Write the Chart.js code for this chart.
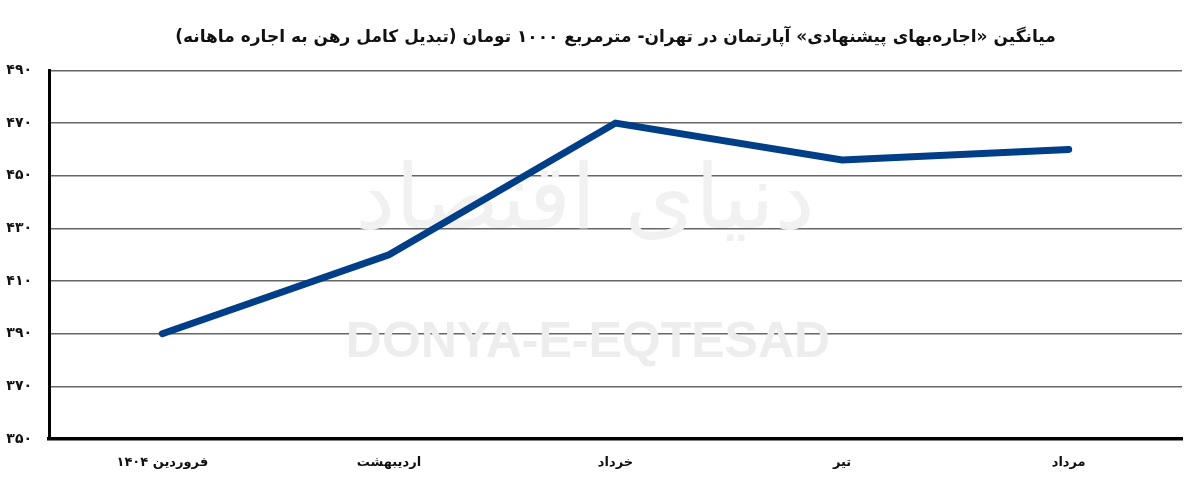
<!DOCTYPE html>
<html lang="fa">
<head>
<meta charset="utf-8">
<script src="https://cdn.jsdelivr.net/npm/chart.js@4/dist/chart.umd.min.js"></script>
<style>
    html, body { margin: 0; padding: 0; background: #fff; }
    #wrap { width: 1200px; height: 481px; }
</style>
</head>
<body>
<div id="wrap"><canvas id="rentChart" dir="rtl"></canvas></div>
<script>
const months = ['فروردین ۱۴۰۴', 'اردیبهشت', 'خرداد', 'تیر', 'مرداد'];
const avgRent = [390, 420, 470, 456, 460];
const yTickValues = [350, 370, 390, 410, 430, 450, 470, 490];
const yTickLabels = ['۳۵۰', '۳۷۰', '۳۹۰', '۴۱۰', '۴۳۰', '۴۵۰', '۴۷۰', '۴۹۰'];
const chartTitle = 'میانگین «اجاره‌بهای پیشنهادی» آپارتمان در تهران- مترمربع ۱۰۰۰ تومان (تبدیل کامل رهن به اجاره ماهانه)';

const faFont = '"DejaVu Sans", "Noto Sans", sans-serif';

// faint watermark behind the line
const watermark = {
    id: 'watermark',
    beforeDatasetsDraw(chart) {
        const ctx = chart.ctx;
        ctx.save();
        ctx.textAlign = 'center';
        ctx.textBaseline = 'middle';
        ctx.fillStyle = '#f1f1f1';
        ctx.font = '90px ' + faFont;
        ctx.fillText('دنیای اقتصاد', 585, 205);
        ctx.fillStyle = '#ededed';
        ctx.font = 'bold 50px "Liberation Sans", Arial, sans-serif';
        ctx.direction = 'ltr';
        ctx.fillText('DONYA-E-EQTESAD', 588, 343);
        ctx.restore();
    }
};

new Chart(document.getElementById('rentChart'), {
    type: 'line',
    data: {
        labels: months,
        datasets: [{
            label: 'اجاره',
            data: avgRent,
            borderColor: '#003f88',
            borderWidth: 7,
            borderCapStyle: 'round',
            pointRadius: 0,
            tension: 0,
            fill: false
        }]
    },
    options: {
        responsive: true,
        maintainAspectRatio: false,
        animation: false,
        layout: { padding: { left: 0, right: 18, top: 0, bottom: 0 } },
        plugins: {
            legend: { display: false },
            tooltip: { enabled: false },
            title: {
                display: true,
                fullSize: false,
                text: chartTitle,
                color: '#111',
                font: { family: faFont, size: 17, weight: 'bold', lineHeight: 1.2 },
                padding: { top: 27, bottom: 23 }
            }
        },
        scales: {
            x: {
                offset: true,
                grid: { display: false, drawTicks: false },
                border: { display: true, color: '#000', width: 3.5 },
                ticks: {
                    color: '#111',
                    padding: 16,
                    font: { family: faFont, size: 13, weight: 'bold' }
                },
                afterFit(scale) { scale.height = 42; }
            },
            y: {
                min: 350,
                max: 490,
                afterBuildTicks(scale) {
                    scale.ticks = yTickValues.map(v => ({ value: v }));
                },
                grid: { color: '#666', lineWidth: 1.5, drawTicks: false },
                border: { display: true, color: '#000', width: 3 },
                ticks: {
                    color: '#111',
                    padding: 17,
                    font: { family: faFont, size: 14, weight: 'bold' },
                    callback: (value) => yTickLabels[yTickValues.indexOf(value)]
                },
                afterFit(scale) { scale.width = 49; }
            }
        }
    },
    plugins: [watermark]
});
</script>
</body>
</html>
